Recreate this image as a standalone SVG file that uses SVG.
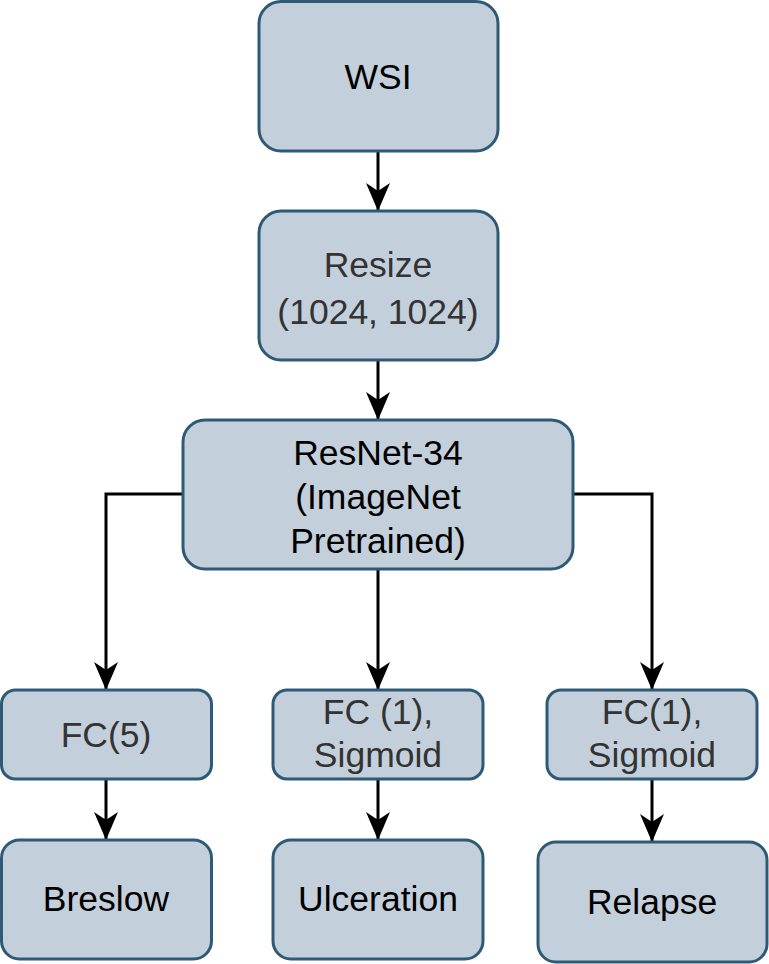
<svg xmlns="http://www.w3.org/2000/svg" width="769" height="964" viewBox="0 0 769 964">
<style>
.box{fill:#c3d0db;stroke:#2f5a75;stroke-width:3}
.t{font-family:"Liberation Sans",Arial,sans-serif;font-size:35.5px;text-anchor:middle}
.k{fill:#000}
.g{fill:#333}
.c{fill:none;stroke:#000;stroke-width:3}
</style>
<defs>
<marker id="a" viewBox="0 0 28 28" refX="27" refY="14" markerWidth="28" markerHeight="28" markerUnits="userSpaceOnUse" orient="auto">
<path d="M0,2 L28,14 L0,26 L8,14 Z" fill="#000"/>
</marker>
</defs>
<g id="connectors">
<path class="c" d="M378,151 V210" marker-end="url(#a)"/>
<path class="c" d="M378,360 V419" marker-end="url(#a)"/>
<path class="c" d="M378,569 V689" marker-end="url(#a)"/>
<path class="c" d="M183,494 H106 V689" marker-end="url(#a)"/>
<path class="c" d="M573,494 H652 V689" marker-end="url(#a)"/>
<path class="c" d="M106,779 V839" marker-end="url(#a)"/>
<path class="c" d="M378,779 V839" marker-end="url(#a)"/>
<path class="c" d="M652,779 V841" marker-end="url(#a)"/>
</g>
<g id="wsi"><rect class="box" x="259" y="1.5" width="239" height="149.5" rx="22"/><text class="t k" x="378" y="89">WSI</text></g>
<g id="resize"><rect class="box" x="259" y="211" width="239" height="149" rx="22"/><text class="t g" x="378" y="277">Resize</text><text class="t g" x="378" y="324">(1024, 1024)</text></g>
<g id="resnet"><rect class="box" x="183" y="420" width="390" height="149" rx="22"/><text class="t k" x="378" y="465">ResNet-34</text><text class="t k" x="378" y="509">(ImageNet</text><text class="t k" x="378" y="553">Pretrained)</text></g>
<g id="fc5"><rect class="box" x="1.5" y="690" width="210" height="89" rx="14"/><text class="t g" x="106" y="747">FC(5)</text></g>
<g id="fc1a"><rect class="box" x="273" y="690" width="210" height="89" rx="14"/><text class="t g" x="378" y="724">FC (1),</text><text class="t g" x="378" y="767">Sigmoid</text></g>
<g id="fc1b"><rect class="box" x="547" y="690" width="210" height="89" rx="14"/><text class="t g" x="652" y="724">FC(1),</text><text class="t g" x="652" y="767">Sigmoid</text></g>
<g id="breslow"><rect class="box" x="1.5" y="840" width="210" height="119" rx="18"/><text class="t k" x="106" y="911">Breslow</text></g>
<g id="ulceration"><rect class="box" x="273" y="840" width="210" height="119" rx="18"/><text class="t k" x="378" y="911">Ulceration</text></g>
<g id="relapse"><rect class="box" x="538" y="842" width="229" height="120" rx="18"/><text class="t k" x="652" y="914">Relapse</text></g>
</svg>
